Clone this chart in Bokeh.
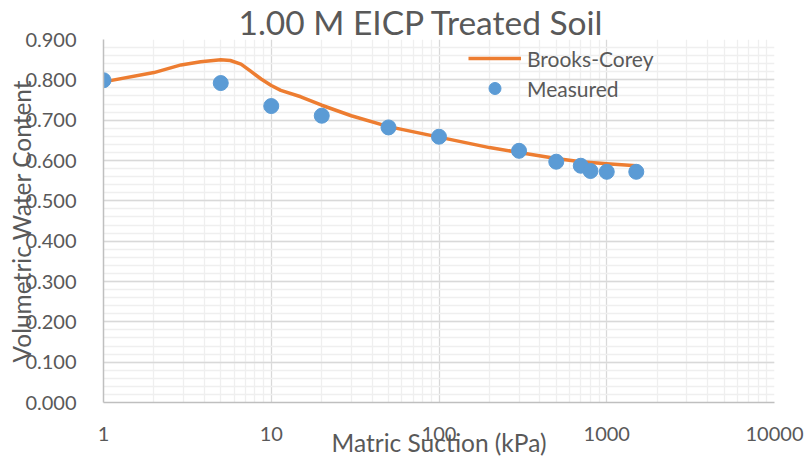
import numpy as np
from bokeh.plotting import figure
from bokeh.models import (Range1d, FixedTicker, NumeralTickFormatter, SingleIntervalTicker,
                          Legend, LegendItem, Title)
from bokeh.embed import file_html
from bokeh.resources import INLINE

# ---- text ----
title_text = "1.00 M EICP Treated Soil"
x_label_text = "Matric Suction (kPa)"
y_label_text = "Volumetric Water Content"
series_fit = "Brooks-Corey"
series_meas = "Measured"

# ---- data ----
measured_suction = [1, 5, 10, 20, 50, 100, 300, 500, 700, 800, 1000, 1500]
measured_theta = [0.799, 0.792, 0.735, 0.711, 0.682, 0.659, 0.624, 0.597, 0.587, 0.574, 0.572, 0.572]

bc_suction = [1, 2, 2.9, 3.8, 5, 5.7, 6.6, 7.5, 8.7, 10, 11.4, 15, 20, 30, 50, 100, 200, 300,
              500, 700, 1000, 1500]
bc_theta = [0.795, 0.818, 0.837, 0.845, 0.850, 0.848, 0.839, 0.822, 0.802, 0.786, 0.774, 0.758,
            0.737, 0.711, 0.684, 0.658, 0.632, 0.620, 0.605, 0.597, 0.592, 0.587]

x_major_ticks = [1, 10, 100, 1000, 10000]
x_minor_ticks = [m * d for d in [1, 10, 100, 1000] for m in range(2, 10)]

FONT = "Lato"
TXT = "#595959"

p = figure(width=806, height=460, x_axis_type="log",
           x_range=Range1d(1, 10000), y_range=Range1d(0, 0.9),
           output_backend="svg", toolbar_location=None,
           min_border_left=103, min_border_right=32, min_border_top=39, min_border_bottom=58)
p.outline_line_color = None
p.background_fill_color = "white"
p.border_fill_color = "white"

t = Title(text=title_text, align="left", offset=135, standoff=-5,
          text_font=FONT, text_font_size="33.5px", text_color=TXT, text_font_style="normal")
p.add_layout(t, "above")

xt = FixedTicker(ticks=x_major_ticks, minor_ticks=x_minor_ticks)
yt = SingleIntervalTicker(interval=0.1, num_minor_ticks=5)
p.xaxis.ticker = xt
p.xgrid.ticker = xt
p.yaxis.ticker = yt
p.ygrid.ticker = yt
p.xaxis.formatter = NumeralTickFormatter(format="0")
p.yaxis.formatter = NumeralTickFormatter(format="0.000")

for g in (p.xgrid, p.ygrid):
    g.grid_line_color = "#D9D9D9"
    g.grid_line_width = 1.3
    g.minor_grid_line_color = "#EFEFEF"
    g.minor_grid_line_width = 1.3

for ax in (p.xaxis, p.yaxis):
    ax.major_tick_line_color = None
    ax.minor_tick_line_color = None
    ax.major_tick_out = 0
    ax.major_tick_in = 0
    ax.axis_line_color = "#BFBFBF"
    ax.axis_line_width = 1.5
    ax.major_label_text_font = FONT
    ax.major_label_text_font_size = "20px"
    ax.major_label_text_color = TXT
    ax.axis_label_text_font = FONT
    ax.axis_label_text_font_size = "24.5px"
    ax.axis_label_text_color = TXT
    ax.axis_label_text_font_style = "normal"
p.xaxis.major_label_standoff = 20
p.yaxis.major_label_standoff = 23
p.xaxis.axis_label = x_label_text
p.yaxis.axis_label = y_label_text
p.xaxis.axis_label_standoff = -16
p.yaxis.axis_label_standoff = -14

r_line = p.line(bc_suction, bc_theta, line_color="#ED7D31", line_width=3.5, line_join="round")
r_pts = p.scatter(measured_suction, measured_theta, size=15, fill_color="#5B9BD5", line_color="#5B9BD5")

legend = Legend(items=[LegendItem(label=series_fit, renderers=[r_line]),
                       LegendItem(label=series_meas, renderers=[r_pts])],
                location=(365, 299), margin=0, padding=0, spacing=0,
                glyph_width=53, glyph_height=30, label_height=30, label_standoff=6,
                label_text_font=FONT, label_text_font_size="21px", label_text_color=TXT,
                border_line_color=None, background_fill_alpha=0)
p.add_layout(legend)

open("out.html", "w").write(file_html(p, INLINE))
